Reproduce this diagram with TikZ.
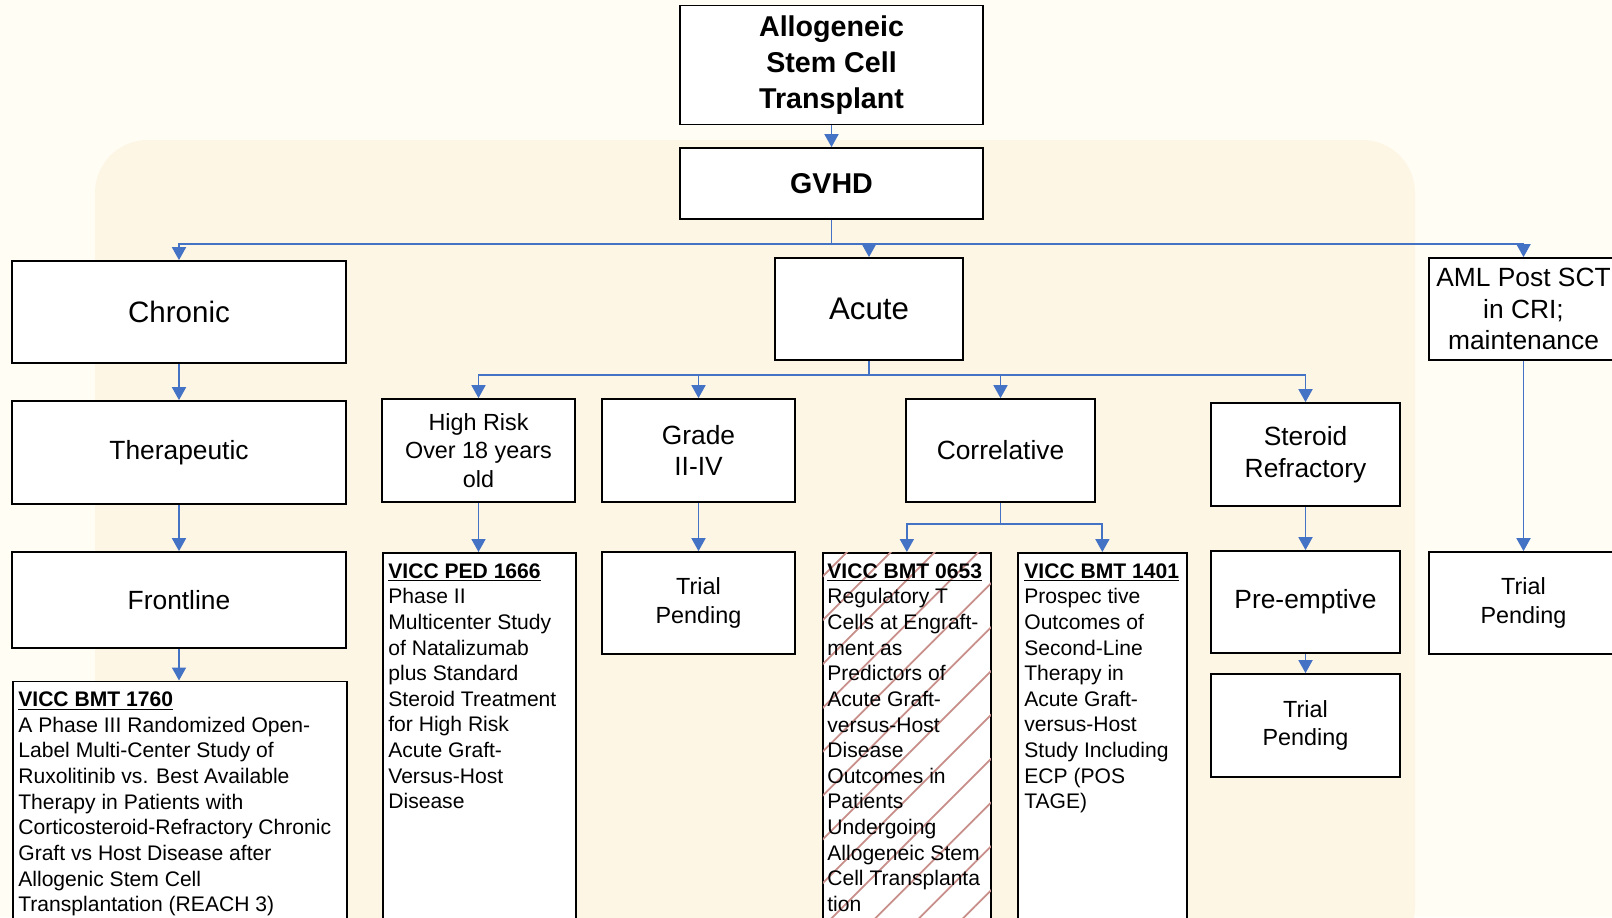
\documentclass[tikz,border=0pt]{standalone}
\usepackage{fontspec}
\setmainfont{Liberation Sans}
\usepackage{xcolor}
\usetikzlibrary{positioning,arrows.meta,patterns.meta,calc}

\definecolor{linkblue}{HTML}{4472C4}
\definecolor{paper}{HTML}{FFFDF4}
\definecolor{band}{HTML}{FEF6E5}
\definecolor{hatch}{HTML}{C88E89}

\begin{document}
\begin{tikzpicture}[x=0.02cm, y=-0.02cm,
    box/.style={draw, line width=1pt, fill=white, align=center, inner sep=0pt},
    title/.style={box, font=\bfseries\fontsize{16.3}{20.5}\selectfont},
    bigbox/.style={box, font=\fontsize{16.8}{20}\selectfont},
    midbox/.style={box, font=\fontsize{15}{18}\selectfont},
    smallbox/.style={box, font=\fontsize{13.3}{16.1}\selectfont},
    study/.style={draw, line width=1pt, fill=white, anchor=north west, inner sep=0pt},
    studytext/.style={anchor=north west, align=left, inner sep=0pt, font=\fontsize{12}{14.6}\selectfont},
    link/.style={draw=linkblue, line width=1pt, -{Triangle[width=0.28cm,length=0.26cm]}}
]
\useasboundingbox (0,0) rectangle (1612,917);
\clip (0,0) rectangle (1612,917);
\fill[paper] (0,0) rectangle (1612,917);
\fill[band, rounded corners=30] (95,140) rectangle (1415,960);

% Greffe
\node[title, minimum width=6.06cm, minimum height=2.38cm] (alloc) at (831.5,65) {Allogeneic\\Stem Cell\\Transplant};
\node[title, minimum width=6.06cm, minimum height=1.42cm] (gvhd) at (831.5,183.5) {GVHD};
\coordinate (gbus) at (831.5,244);

% Chronique
\node[bigbox, minimum width=6.68cm, minimum height=2.04cm] (chronic) at (179,312) {Chronic};
\node[midbox, minimum width=6.68cm, minimum height=2.06cm] (thera) at (179,452.5) {Therapeutic};
\node[midbox, minimum width=6.68cm, minimum height=1.92cm] (front) at (179,600) {Frontline};
\node[study, minimum width=6.68cm, minimum height=5.3cm] (bmt1760) at (12,680.5) {};
\node[studytext] (bmt1760txt) at ([shift={(6,11)}]bmt1760.north west) {\underline{\textbf{VICC BMT 1760}}\\A Phase III Randomized Open-\\Label Multi-Center Study of\\Ruxolitinib vs. Best Available\\Therapy in Patients with\\Corticosteroid-Refractory Chronic\\Graft vs Host Disease after\\Allogenic Stem Cell\\Transplantation (REACH 3)};

% Aigue
\node[bigbox, font=\fontsize{17.8}{21}\selectfont, minimum width=3.76cm, minimum height=2.04cm] (acute) at (869,309) {Acute};
\coordinate (abus) at (869,375);
\node[smallbox, minimum width=3.86cm, minimum height=2.06cm] (highrisk) at (478.5,450.5) {High Risk\\Over 18 years\\old};
\node[midbox, minimum width=3.86cm, minimum height=2.06cm] (grade) at (698.5,450.5) {Grade\\II-IV};
\node[midbox, minimum width=3.78cm, minimum height=2.06cm] (correl) at (1000.5,450.5) {Correlative};
\node[midbox, minimum width=3.78cm, minimum height=2.06cm] (steroid) at (1305.5,454.5) {Steroid\\Refractory};

\node[study, minimum width=3.86cm, minimum height=7.9cm] (ped1666) at (382,552) {};
\node[studytext] (ped1666txt) at ([shift={(6,11)}]ped1666.north west) {\underline{\textbf{VICC PED 1666}}\\Phase II\\Multicenter Study\\of Natalizumab\\plus Standard\\Steroid Treatment\\for High Risk\\Acute Graft-\\Versus-Host\\Disease};
\node[smallbox, minimum width=3.86cm, minimum height=2.04cm] (gradetrial) at (698.5,603) {Trial\\Pending};

\coordinate (cbus) at (1000.5,524);
\node[study, minimum width=3.36cm, minimum height=7.9cm,
      postaction={pattern={Lines[angle=45,distance=0.62cm,line width=1pt]}, pattern color=hatch}] (bmt0653) at (822,552) {};
\node[studytext] (bmt0653txt) at ([shift={(5,11)}]bmt0653.north west) {\underline{\textbf{VICC BMT 0653}}\\Regulatory T\\Cells at Engraft-\\ment as\\Predictors of\\Acute Graft-\\versus-Host\\Disease\\Outcomes in\\Patients\\Undergoing\\Allogeneic Stem\\Cell Transplanta\\tion};
\node[study, minimum width=3.38cm, minimum height=7.9cm] (bmt1401) at (1017,552) {};
\node[studytext] (bmt1401txt) at ([shift={(7,11)}]bmt1401.north west) {\underline{\textbf{VICC BMT 1401}}\\Prospec tive\\Outcomes of\\Second-Line\\Therapy in\\Acute Graft-\\versus-Host\\Study Including\\ECP (POS\\TAGE)};

\node[midbox, minimum width=3.78cm, minimum height=2.04cm] (preempt) at (1305.5,602) {Pre-emptive};
\node[smallbox, minimum width=3.78cm, minimum height=2.06cm] (steroidtrial) at (1305.5,725.5) {Trial\\Pending};

% AML
\node[midbox, minimum width=3.78cm, minimum height=2.04cm] (aml) at (1523.5,309) {AML Post SCT\\in CRI;\\maintenance};
\node[smallbox, minimum width=3.78cm, minimum height=2.04cm] (amltrial) at (1523.5,603) {Trial\\Pending};

% Fleches
\draw[link] (alloc.south) -- (gvhd.north);
\draw[link] (gvhd.south) -- (gbus) -| (chronic.north);
\draw[link] (gbus) -| (acute.north);
\draw[link] (gbus) -| (aml.north);
\draw[link] (chronic.south) -- (thera.north);
\draw[link] (thera.south) -- (front.north);
\draw[link] (front.south) -- (front.south |- bmt1760.north);

\draw[link] (acute.south) -- (abus) -| (highrisk.north);
\draw[link] (abus) -| (grade.north);
\draw[link] (abus) -| (correl.north);
\draw[link] (abus) -| (steroid.north);
\draw[link] (highrisk.south) -- (highrisk.south |- ped1666.north);
\draw[link] (grade.south) -- (gradetrial.north);
\draw[link] (correl.south) -- (cbus) -| (bmt0653.north);
\draw[link] (cbus) -| (bmt1401.north);
\draw[link] (steroid.south) -- (preempt.north);
\draw[link] (preempt.south) -- (steroidtrial.north);
\draw[link] (aml.south) -- (amltrial.north);
\end{tikzpicture}
\end{document}
